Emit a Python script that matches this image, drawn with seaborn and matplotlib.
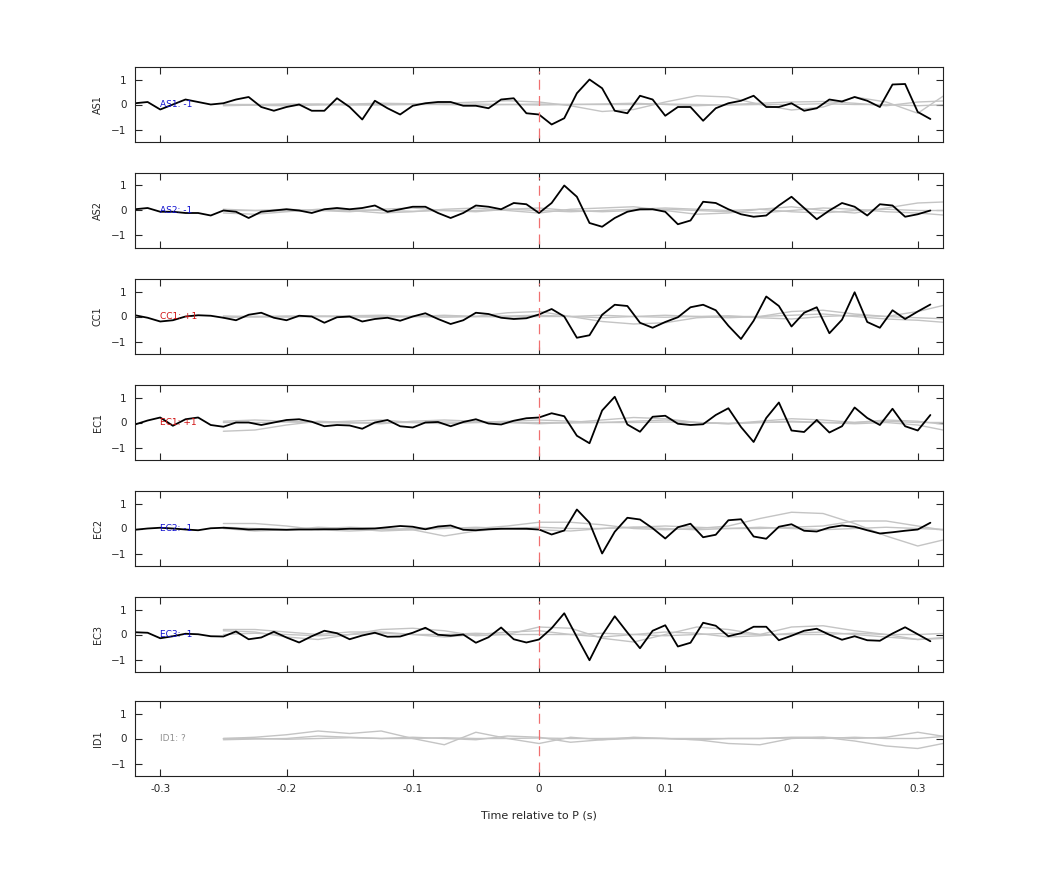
import numpy as np
import pandas as pd
import matplotlib
matplotlib.use("Agg")
import matplotlib.pyplot as plt
import seaborn as sns

sns.set_theme(style="ticks")
plt.rcParams['font.family'] = ['DejaVu Sans']

stations = ["AS1", "AS2", "CC1", "EC1", "EC2", "EC3", "ID1"]
labels = ["AS1: -1", "AS2: -1", "CC1: +1", "EC1: +1", "EC2: -1", "EC3: -1", "ID1: ?"]
label_colors = ["#1010d0", "#1010d0", "#d01010", "#d01010", "#1010d0", "#1010d0", "#909090"]

# black traces, t = -0.32 .. 0.31 step 0.01
t_black = np.round(np.arange(-32, 32) / 100, 2)
black = {
    "AS1": [0.05, 0.1, -0.2, 0.0, 0.2, 0.1, 0.0, 0.05, 0.2, 0.3, -0.1, -0.25, -0.1, 0.0, -0.25, -0.25,
            0.25, -0.1, -0.6, 0.15, -0.15, -0.4, -0.05, 0.05, 0.1, 0.1, -0.05, -0.05, -0.15, 0.2, 0.25, -0.35,
            -0.4, -0.8, -0.55, 0.45, 1.0, 0.65, -0.25, -0.35, 0.35, 0.2, -0.45, -0.1, -0.1, -0.65, -0.15, 0.05,
            0.15, 0.35, -0.1, -0.1, 0.05, -0.25, -0.15, 0.2, 0.12, 0.3, 0.15, -0.1, 0.8, 0.82, -0.3, -0.58],
    "AS2": [0.05, 0.1, -0.05, -0.05, -0.1, -0.1, -0.2, 0.0, -0.05, -0.3, -0.05, 0.0, 0.05, 0.0, -0.1, 0.05,
            0.1, 0.05, 0.1, 0.2, -0.05, 0.05, 0.15, 0.15, -0.1, -0.3, -0.1, 0.2, 0.15, 0.05, 0.3, 0.25,
            -0.1, 0.3, 1.0, 0.55, -0.5, -0.65, -0.3, -0.05, 0.05, 0.05, -0.05, -0.55, -0.4, 0.35, 0.3, 0.05,
            -0.15, -0.25, -0.2, 0.2, 0.55, 0.1, -0.35, 0.0, 0.3, 0.15, -0.2, 0.25, 0.2, -0.25, -0.15, 0.0],
    "CC1": [0.05, -0.05, -0.2, -0.15, 0.0, 0.05, 0.03, -0.05, -0.15, 0.07, 0.15, -0.05, -0.15, 0.03, 0.0, -0.25,
            -0.03, 0.0, -0.2, -0.1, -0.05, -0.17, 0.0, 0.13, -0.1, -0.3, -0.15, 0.15, 0.1, -0.05, -0.1, -0.07,
            0.08, 0.3, 0.0, -0.85, -0.75, 0.07, 0.47, 0.42, -0.25, -0.45, -0.22, -0.03, 0.37, 0.47, 0.25, -0.37,
            -0.9, -0.17, 0.8, 0.42, -0.4, 0.15, 0.37, -0.67, -0.13, 0.97, -0.22, -0.45, 0.25, -0.1, 0.2, 0.48],
    "EC1": [-0.08, 0.08, 0.2, -0.13, 0.13, 0.2, -0.1, -0.17, 0.0, 0.0, -0.1, 0.0, 0.1, 0.13, 0.03, -0.15,
            -0.1, -0.12, -0.25, 0.0, 0.1, -0.15, -0.2, 0.0, 0.02, -0.15, 0.02, 0.13, -0.04, -0.08, 0.07, 0.17,
            0.2, 0.37, 0.25, -0.53, -0.83, 0.48, 1.03, -0.08, -0.37, 0.23, 0.27, -0.05, -0.1, -0.07, 0.3, 0.57,
            -0.18, -0.78, 0.18, 0.8, -0.32, -0.38, 0.1, -0.4, -0.15, 0.6, 0.18, -0.1, 0.55, -0.15, -0.32, 0.3],
    "EC2": [-0.05, 0.0, 0.03, 0.0, -0.04, -0.07, 0.01, 0.03, 0.0, -0.04, -0.03, -0.04, -0.05, -0.04, -0.04, -0.03,
            -0.03, -0.01, -0.01, 0.0, 0.05, 0.1, 0.07, -0.03, 0.08, 0.12, -0.05, -0.07, -0.03, -0.01, -0.01, -0.01,
            -0.04, -0.24, -0.08, 0.76, 0.23, -1.0, -0.13, 0.43, 0.36, 0.01, -0.4, 0.05, 0.19, -0.35, -0.25, 0.33,
            0.37, -0.32, -0.41, 0.07, 0.17, -0.09, -0.12, 0.04, 0.12, 0.07, -0.07, -0.2, -0.15, -0.09, -0.04, 0.23],
    "EC3": [0.09, 0.07, -0.15, -0.07, 0.03, 0.01, -0.07, -0.08, 0.12, -0.19, -0.12, 0.11, -0.12, -0.32, -0.07, 0.15,
            0.05, -0.19, -0.04, 0.07, -0.09, -0.08, 0.07, 0.27, -0.01, -0.05, 0.0, -0.33, -0.11, 0.28, -0.19, -0.32,
            -0.2, 0.25, 0.85, -0.1, -1.03, -0.03, 0.73, 0.08, -0.55, 0.15, 0.37, -0.48, -0.33, 0.47, 0.35, -0.07,
            0.05, 0.31, 0.31, -0.23, -0.05, 0.15, 0.23, -0.01, -0.21, -0.07, -0.23, -0.25, 0.04, 0.29, 0.01, -0.27],
}

# grey traces, t = -0.25 .. 0.325 step 0.025
t_grey = np.round(np.arange(-10, 14) * 0.025, 3)
grey = {
    "AS1": [[0.0, 0.0, 0.02, 0.0, -0.02, 0.0, 0.03, 0.05, 0.1, 0.15, 0.1, -0.05, -0.28, -0.2, 0.1, 0.35, 0.3, 0.0, -0.22, -0.1, 0.3, 0.1, -0.35, 0.5],
            [0.0, -0.03, -0.05, -0.02, 0.02, 0.05, 0.03, 0.0, -0.03, 0.0, 0.02, 0.0, 0.02, 0.05, 0.0, -0.05, 0.0, 0.05, 0.1, 0.12, 0.05, -0.05, 0.1, 0.15],
            [-0.05, -0.02, 0.0, 0.02, 0.0, -0.02, 0.0, 0.0, 0.02, 0.0, -0.02, 0.0, 0.0, 0.0, 0.02, 0.0, -0.02, 0.0, 0.0, 0.03, 0.0, 0.0, -0.05, 0.0]],
    "AS2": [[-0.1, -0.15, -0.05, 0.05, 0.0, -0.1, -0.05, 0.05, 0.1, 0.0, -0.1, 0.05, 0.1, 0.15, 0.0, -0.15, -0.1, 0.05, 0.15, 0.0, -0.1, 0.1, 0.3, 0.35],
            [0.0, 0.0, 0.05, 0.0, -0.05, 0.05, 0.1, 0.0, -0.05, 0.05, 0.1, 0.0, -0.05, 0.0, 0.05, 0.0, -0.05, -0.1, 0.0, 0.1, 0.05, -0.05, -0.1, -0.2],
            [0.05, 0.0, -0.02, 0.0, 0.03, 0.0, -0.03, 0.0, 0.0, 0.05, 0.0, -0.05, 0.0, 0.05, 0.1, 0.05, 0.0, 0.05, -0.05, -0.1, 0.0, 0.05, 0.0, 0.0]],
    "CC1": [[0.0, -0.02, 0.0, 0.02, 0.0, -0.03, 0.0, 0.05, 0.0, 0.15, 0.2, 0.0, -0.2, -0.3, -0.25, -0.05, 0.0, 0.0, 0.05, 0.1, 0.0, -0.1, -0.15, -0.25],
            [0.02, 0.0, -0.02, 0.0, 0.03, 0.05, 0.0, -0.03, 0.0, 0.02, 0.05, 0.0, -0.05, 0.0, 0.05, 0.0, -0.05, 0.0, 0.2, 0.25, 0.1, 0.0, 0.2, 0.5],
            [-0.05, 0.0, 0.02, 0.0, -0.02, 0.0, 0.0, 0.02, 0.0, -0.02, 0.0, 0.0, 0.05, 0.0, -0.03, 0.0, 0.03, -0.05, -0.1, 0.0, 0.05, 0.0, -0.05, -0.1]],
    "EC1": [[-0.35, -0.3, -0.1, 0.05, 0.0, -0.05, 0.05, 0.1, 0.05, 0.0, -0.05, 0.0, 0.1, 0.2, 0.15, 0.0, -0.05, 0.05, 0.15, 0.1, 0.0, 0.1, 0.05, -0.1],
            [0.05, 0.1, 0.05, 0.0, 0.05, 0.1, 0.0, -0.05, 0.0, 0.05, 0.1, 0.05, 0.0, 0.05, 0.1, 0.0, -0.05, 0.0, 0.05, 0.0, -0.05, 0.0, -0.1, -0.35],
            [0.0, 0.0, 0.02, 0.0, -0.02, 0.0, 0.0, 0.02, 0.0, 0.0, 0.0, -0.02, 0.0, 0.0, 0.02, 0.0, -0.03, 0.0, 0.02, 0.0, 0.0, 0.05, 0.0, 0.0]],
    "EC2": [[0.2, 0.2, 0.1, -0.05, -0.1, -0.05, 0.0, 0.05, 0.0, 0.1, 0.25, 0.25, 0.15, 0.0, -0.05, 0.0, 0.1, 0.4, 0.65, 0.6, 0.2, -0.3, -0.7, -0.4],
            [0.0, -0.1, -0.05, 0.05, 0.0, -0.1, -0.05, -0.3, -0.1, 0.0, 0.05, 0.0, 0.0, 0.05, 0.1, 0.05, 0.0, 0.0, 0.05, 0.1, 0.3, 0.3, 0.1, -0.1],
            [0.05, 0.0, -0.05, 0.0, 0.05, 0.0, -0.05, 0.0, 0.05, 0.0, -0.05, -0.1, 0.0, 0.05, 0.0, -0.05, 0.0, 0.05, 0.0, -0.05, 0.0, 0.05, 0.0, -0.05]],
    "EC3": [[0.15, 0.1, -0.1, -0.2, 0.0, 0.2, 0.25, 0.15, -0.05, 0.0, 0.3, 0.25, -0.15, -0.3, 0.0, 0.3, 0.2, 0.0, 0.3, 0.35, 0.15, 0.0, -0.2, -0.15],
            [0.2, 0.2, 0.1, 0.0, 0.1, 0.1, 0.0, -0.1, 0.0, 0.1, 0.15, 0.0, -0.1, 0.0, 0.1, 0.05, -0.1, -0.05, 0.05, 0.1, 0.0, -0.1, -0.2, -0.1],
            [0.0, 0.05, 0.0, -0.05, 0.0, 0.05, 0.0, 0.0, 0.05, 0.0, 0.0, 0.0, 0.05, 0.0, -0.05, 0.0, 0.05, 0.0, 0.0, 0.0, 0.05, 0.0, 0.0, 0.05]],
    "ID1": [[0.0, 0.05, 0.15, 0.3, 0.2, 0.3, 0.0, -0.25, 0.25, 0.0, -0.2, 0.05, -0.05, 0.0, 0.0, -0.05, -0.2, -0.25, 0.0, 0.05, 0.0, 0.05, 0.25, 0.05],
            [-0.05, -0.02, 0.0, 0.1, 0.05, 0.0, 0.05, 0.0, -0.05, 0.1, 0.05, -0.15, -0.05, 0.05, 0.0, -0.05, 0.0, 0.0, 0.05, 0.05, -0.1, -0.3, -0.4, -0.15],
            [0.0, 0.0, -0.03, 0.0, 0.03, 0.0, 0.0, 0.03, 0.0, 0.0, 0.02, 0.0, 0.0, 0.02, 0.0, 0.0, 0.0, 0.0, 0.02, 0.0, 0.05, 0.0, 0.0, 0.1]],
}

xticks = [-0.3, -0.2, -0.1, 0, 0.1, 0.2, 0.3]
xtick_labels = ["-0.3", "-0.2", "-0.1", "0", "0.1", "0.2", "0.3"]
yticks = [-1, 0, 1]

fig = plt.figure(figsize=(10.42, 8.75), dpi=100)
left, width = 135 / 1042, (943 - 135) / 1042
tops = [67, 173, 279, 385, 491, 597, 701]
h = 75
for i, st in enumerate(stations):
    ax = fig.add_axes([left, 1 - (tops[i] + h) / 875, width, h / 875])
    for k, g in enumerate(grey[st]):
        df = pd.DataFrame({"t": t_grey, "v": g})
        sns.lineplot(data=df, x="t", y="v", ax=ax, color="#c4c4c4", lw=1.0)
    if st in black:
        df = pd.DataFrame({"t": t_black, "v": black[st]})
        sns.lineplot(data=df, x="t", y="v", ax=ax, color="black", lw=1.3)
    ax.axvline(0, color="#f07070", lw=0.9, ls=(0, (8, 5)), ymin=0.05, ymax=0.95)
    ax.text(-0.3, 0, labels[i], color=label_colors[i], fontsize=6.5, va="center", ha="left")
    ax.set_xlim(-0.32, 0.32)
    ax.set_ylim(-1.5, 1.5)
    ax.set_yticks(yticks)
    ax.set_xticks(xticks)
    ax.tick_params(direction="in", top=True, right=True, labelsize=7.5, length=5, width=0.8, pad=6)
    ax.set_ylabel(st, fontsize=7, labelpad=6)
    for s in ax.spines.values():
        s.set_linewidth(0.8)
        s.set_color("#222222")
    if i < len(stations) - 1:
        ax.set_xticklabels([])
        ax.set_xlabel("")
    else:
        ax.set_xticklabels(xtick_labels)
        ax.set_xlabel("Time relative to P (s)", fontsize=8, labelpad=12)

fig.savefig("out.png", dpi=100)
